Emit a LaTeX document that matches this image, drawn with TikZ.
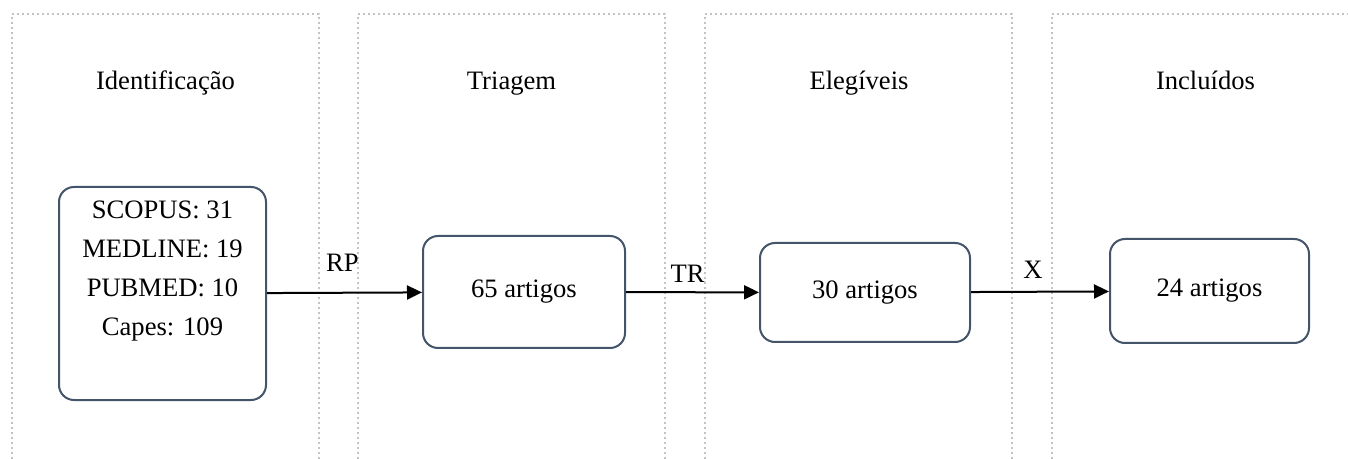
\documentclass[tikz,border=0pt]{standalone}
\usepackage{fontspec}
\IfFontExistsTF{LiberationSerif-Regular.ttf}
  {\setmainfont{LiberationSerif-Regular.ttf}}
  {\setmainfont{Liberation Serif}}
\usetikzlibrary{arrows.meta,positioning}
\definecolor{prslate}{RGB}{68,84,106}
\definecolor{prgrid}{RGB}{195,195,195}
\tikzset{
  prbox/.style={draw=prslate, line width=1pt, rounded corners=7.5pt, fill=white, align=center, inner sep=0pt},
  prarr/.style={-{Triangle[length=7.5pt,width=7pt]}, line width=1pt, draw=black},
  prlane/.style={draw=prgrid, line width=1pt, dash pattern=on 1pt off 1.5pt},
  prhead/.style={anchor=base, inner sep=0pt},
  prlab/.style={inner sep=0pt}
}

\begin{document}
\begin{tikzpicture}[x=0.5pt, y=-0.5pt, font=\fontsize{13.3}{19.5}\selectfont]
  \useasboundingbox (0,0) rectangle (1348,459);
  % dotted lanes
  \foreach \l in {12,358,705}
    \draw[prlane] (\l,459) -- (\l,14) -- (\l+307,14) -- (\l+307,459);
  \draw[prlane] (1052,459) -- (1052,14) -- (1348,14);
  % lane titles
  \node[prhead] (hIdent) at (165.5,90) {Identificação};
  \node[prhead] (hTriag) at (511.5,90) {Triagem};
  \node[prhead] (hEleg) at (859,90) {Elegíveis};
  \node[prhead] (hIncl) at (1205.5,90) {Incluídos};
  % boxes
  \node[prbox, minimum width=103.5pt, minimum height=106.5pt] (ident) at (162.5,293.5)
    {SCOPUS: 31\\MEDLINE: 19\\PUBMED: 10\\Capes: 109\\\strut};
  \node[prbox, minimum width=101pt, minimum height=56pt] (triag) at (524,292) {65 artigos};
  \node[prbox, minimum width=105pt, minimum height=49.5pt] (eleg) at (865,292.5) {30 artigos};
  \node[prbox, minimum width=99.5pt, minimum height=52pt] (incl) at (1209.5,291) {24 artigos};
  % arrows
  \draw[prarr] (ident) -- node[prlab, above=10pt, xshift=-1pt] {RP} (triag);
  \draw[prarr] (triag) -- node[prlab, above=4.5pt, xshift=-2.5pt] {TR} (eleg);
  \draw[prarr] (eleg) -- node[prlab, above=6pt, xshift=-3.5pt] {X} (incl);
\end{tikzpicture}
\end{document}
